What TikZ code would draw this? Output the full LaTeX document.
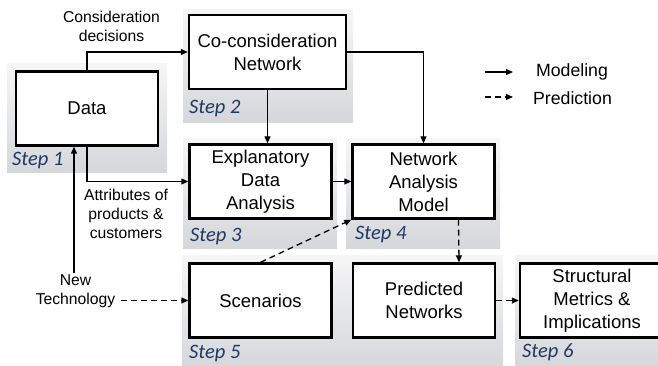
\documentclass[tikz,border=0pt]{standalone}
\usepackage{fontspec}
\setmainfont{Liberation Sans}
\newfontfamily\stepfont{Carlito}
\usetikzlibrary{arrows.meta}
\definecolor{stepblue}{HTML}{1F3864}
\definecolor{paneltop}{HTML}{F6F6F7}
\definecolor{panelbot}{HTML}{D5D7DA}

\begin{document}
\begin{tikzpicture}[x=1pt, y=-1pt,
  box/.style={draw, line width=2.4pt, fill=white, minimum width=142pt, minimum height=74pt, align=center, inner sep=0pt, font=\fontsize{18.5}{23}\selectfont},
  panel/.style={top color=paneltop, bottom color=panelbot},
  steplbl/.style={anchor=base west, inner sep=0pt, text=stepblue, font=\stepfont\itshape\fontsize{20.5}{24}\selectfont},
  lbl/.style={align=center, inner sep=1pt, font=\fontsize{15.7}{19}\selectfont},
  leg/.style={inner sep=0pt, font=\fontsize{17.7}{21}\selectfont},
  flow/.style={line width=1.3pt, -{Triangle[length=7pt, width=6pt]}},
  pred/.style={flow, dash pattern=on 6pt off 4pt}]
\clip (0,0) rectangle (658,365);
\useasboundingbox (0,0) rectangle (658,365);
% step panels
\fill[panel] (7,63) rectangle (167,172);
\fill[panel] (183,9) rectangle (353,122);
\fill[panel] (183,138) rectangle (337,248);
\fill[panel] (346,138) rectangle (500,248);
\fill[panel] (182,255) rectangle (503,368);
\fill[panel] (515,255) rectangle (664,368);
\node[steplbl] (s1) at (12,165) {Step 1};
\node[steplbl] (s2) at (189,113) {Step 2};
\node[steplbl] (s3) at (190,241) {Step 3};
\node[steplbl] (s4) at (355,239) {Step 4};
\node[steplbl] (s5) at (189,358) {Step 5};
\node[steplbl] (s6) at (522,357) {Step 6};
% boxes
\node[box] (data) at (87,108.5) {Data};
\node[box, minimum width=157pt] (cons) at (267.5,52) {Co-consideration\\Network};
\node[box] (expl) at (260.5,181.5) {Explanatory\\Data\\Analysis};
\node[box] (net) at (423.5,181.5) {Network\\Analysis\\Model};
\node[box] (scen) at (260.5,300.5) {Scenarios};
\node[box] (predn) at (424,300.5) {Predicted\\Networks};
\node[box, minimum width=144pt] (struct) at (592,300.5) {Structural\\Metrics \&\\Implications};
% labels
\node[lbl] (consdec) at (111.5,26) {Consideration\\decisions};
\node[lbl] (attr) at (126,214) {Attributes of\\products \&\\customers};
\node[lbl] (newtech) at (75.5,291) {New\\Technology};
% connectors
\draw[flow] (data.north) |- (cons.west);
\draw[flow] (data.south) |- (expl.west);
\draw[flow] ([xshift=-1.5pt]newtech.north) -- ([xshift=-1.5pt]newtech.north |- data.south);
\draw[flow] (cons.south) -- (cons.south |- expl.north);
\draw[flow] (cons.east) -| (net.north);
\draw[flow] (expl.east) -- (net.west);
\draw[pred] (scen.north) -- (net.south west);
\draw[pred] ([xshift=35pt]net.south) -- ([xshift=35pt]predn.north);
\draw[pred] (predn.east) -- (struct.west);
\draw[pred] ([xshift=5pt]newtech.east |- scen.west) -- (scen.west);
% legend
\coordinate (m1) at (485,72);
\coordinate (m2) at (513,72);
\coordinate (p1) at (485,97);
\coordinate (p2) at (513,97);
\draw[flow] (m1) -- (m2);
\draw[pred] (p1) -- (p2);
\node[leg] (model) at (572,72) {Modeling};
\node[leg] (predict) at (572.5,98) {Prediction};
\end{tikzpicture}
\end{document}
